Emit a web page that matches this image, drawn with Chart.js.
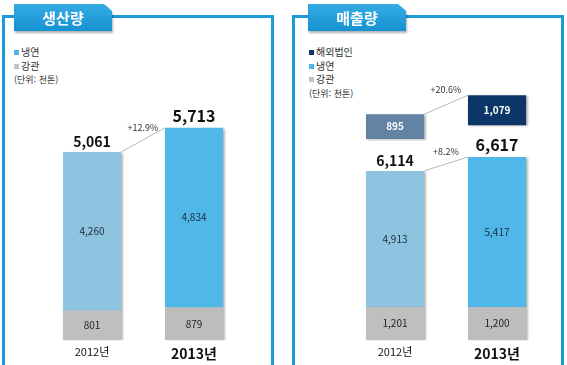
<!DOCTYPE html>
<html lang="ko">
<head>
<meta charset="utf-8">
<script src="https://cdn.jsdelivr.net/npm/chart.js@4.4.1/dist/chart.umd.min.js"></script>
<style>
  body {
    margin: 0;
    width: 567px;
    height: 365px;
    position: relative;
    overflow: hidden;
    background: #fff;
    font-family: "Noto Sans CJK KR", "Noto Sans", sans-serif;
  }
  .frame {
    position: absolute;
    top: 15px;
    height: 360px;
    width: 272px;
    box-sizing: border-box;
    border: 3px solid #1b9bd9;
    border-bottom: none;
  }
  .tabwrap {
    position: absolute;
    top: 4px;
    filter: drop-shadow(1px 2px 1px rgba(0, 0, 0, 0.3));
  }
  .tab {
    width: 98px;
    height: 27px;
    background: linear-gradient(#36abe3, #1592d2);
    clip-path: polygon(0 0, 90px 0, 98px 7px, 98px 100%, 0 100%);
    color: #fff;
    font-weight: bold;
    font-size: 15px;
    line-height: 27px;
    text-align: center;
  }
  .legend {
    position: absolute;
    top: 45px;
    font-size: 10px;
    color: #333;
    line-height: 13.5px;
  }
  .legend i {
    display: inline-block;
    width: 5px;
    height: 5px;
    margin-right: 2px;
    vertical-align: 1px;
  }
  .legend .unit { font-size: 9px; margin-top: 1px; }
  canvas { position: absolute; top: 0; }
</style>
</head>
<body>

<div class="frame" style="left:2px"></div>
<div class="frame" style="left:292px"></div>
<div class="tabwrap" style="left:14px"><div class="tab">생산량</div></div>
<div class="tabwrap" style="left:308px"><div class="tab">매출량</div></div>

<div class="legend" style="left:14px">
  <div><i style="background:#4fb3e6"></i>냉연</div>
  <div><i style="background:#c4c4c4"></i>강관</div>
  <div class="unit">(단위: 천톤)</div>
</div>
<div class="legend" style="left:309px">
  <div><i style="background:#0c3568"></i>해외법인</div>
  <div><i style="background:#4fb3e6"></i>냉연</div>
  <div><i style="background:#c4c4c4"></i>강관</div>
  <div class="unit">(단위: 천톤)</div>
</div>

<canvas id="prodChart" width="283" height="365" style="left:0"></canvas>
<canvas id="salesChart" width="282" height="365" style="left:285px"></canvas>

<script>
const years = ["2012년", "2013년"];

// 생산량
const prodPipe = [801, 879];       // 강관
const prodCold = [4260, 4834];     // 냉연

// 매출량
const salesPipe = [1201, 1200];    // 강관
const salesCold = [4913, 5417];    // 냉연
const salesOverseas = [895, 1079]; // 해외법인

const coldColors = ["#8ec4e0", "#4fb8e8"];
const pipeColors = ["#bfbfbf", "#bdbdbd"];
const overseasColors = ["#6283a3", "#0c3568"];

const fmt = v => v.toLocaleString("en-US");
const pct = (a, b) => "+" + ((b / a - 1) * 100).toFixed(1) + "%";

// stacked bars drawn as floating ranges so the overseas box can sit above the stack
function stackRanges(lower, upper) {
  return {
    low: lower.map(v => [0, v]),
    high: lower.map((v, i) => [v, v + upper[i]])
  };
}

const shadowPlugin = {
  id: "barShadow",
  beforeDatasetsDraw(chart) {
    const ctx = chart.ctx;
    ctx.save();
    ctx.shadowColor = "rgba(0,0,0,0.28)";
    ctx.shadowOffsetX = 2;
    ctx.shadowOffsetY = 1;
    ctx.shadowBlur = 2;
  },
  afterDatasetsDraw(chart) {
    chart.ctx.restore();
  }
};

function connector(ctx, a, b, label, lift) {
  const x1 = a.x + a.width / 2, y1 = a.y;
  const x2 = b.x - b.width / 2, y2 = b.y;
  ctx.strokeStyle = "#b8b8b8";
  ctx.lineWidth = 1;
  ctx.beginPath();
  ctx.moveTo(x1, y1);
  ctx.lineTo(x2, y2);
  ctx.stroke();
  ctx.fillStyle = "#333";
  ctx.font = '9px "Noto Sans CJK KR", sans-serif';
  ctx.textAlign = "center";
  ctx.textBaseline = "middle";
  ctx.fillText(label, (x1 + x2) / 2, (y1 + y2) / 2 - lift);
}

const labelPlugin = {
  id: "valueLabels",
  afterDatasetsDraw(chart) {
    const ctx = chart.ctx;
    ctx.save();
    ctx.textAlign = "center";
    ctx.textBaseline = "middle";
    chart.data.datasets.forEach((ds, di) => {
      const meta = chart.getDatasetMeta(di);
      meta.data.forEach((el, i) => {
        ctx.fillStyle = ds.labelColor;
        ctx.font = ds.labelFont;
        ctx.fillText(fmt(ds.amounts[i]), el.x, (el.y + el.base) / 2);
      });
    });

    // totals above the 냉연 segment
    const coldMeta = chart.getDatasetMeta(1);
    const totals = chart.data.datasets[1].data.map(r => r[1]);
    coldMeta.data.forEach((el, i) => {
      ctx.fillStyle = "#111";
      ctx.font = i === 1
        ? 'bold 16px "Noto Sans CJK KR", sans-serif'
        : 'bold 14px "Noto Sans CJK KR", sans-serif';
      ctx.textBaseline = "alphabetic";
      ctx.fillText(fmt(totals[i]), el.x, el.y - (i === 1 ? 6 : 5));
    });
    connector(ctx, coldMeta.data[0], coldMeta.data[1], pct(totals[0], totals[1]), 12);

    if (chart.data.datasets.length > 2) {
      const osMeta = chart.getDatasetMeta(2);
      const amounts = chart.data.datasets[2].amounts;
      connector(ctx, osMeta.data[0], osMeta.data[1], pct(amounts[0], amounts[1]), 15);
    }
    ctx.restore();
  }
};

function makeOptions(yMax, padding) {
  return {
    responsive: false,
    animation: false,
    layout: { padding: padding },
    plugins: { legend: { display: false }, tooltip: { enabled: false } },
    scales: {
      x: {
        stacked: true,
        grid: { display: false, drawTicks: false },
        border: { display: false },
        ticks: {
          color: "#111",
          padding: 5,
          font: c => c.index === 1
            ? { size: 14, weight: "bold", family: '"Noto Sans CJK KR", sans-serif' }
            : { size: 11, family: '"Noto Sans CJK KR", sans-serif' }
        }
      },
      y: { display: false, stacked: false, min: 0, max: yMax }
    }
  };
}

const segFont = '10px "Noto Sans CJK KR", sans-serif';

const prod = stackRanges(prodPipe, prodCold);
new Chart(document.getElementById("prodChart"), {
  type: "bar",
  data: {
    labels: years,
    datasets: [
      { label: "강관", data: prod.low, amounts: prodPipe, backgroundColor: pipeColors,
        labelColor: "#222", labelFont: segFont, barPercentage: 0.57, categoryPercentage: 1 },
      { label: "냉연", data: prod.high, amounts: prodCold, backgroundColor: coldColors,
        labelColor: "#1c2b3a", labelFont: segFont, barPercentage: 0.57, categoryPercentage: 1 }
    ]
  },
  options: makeOptions(7000, { top: 80, left: 41, right: 38, bottom: -2 }),
  plugins: [shadowPlugin, labelPlugin]
});

const sales = stackRanges(salesPipe, salesCold);
const gap = 1150;
new Chart(document.getElementById("salesChart"), {
  type: "bar",
  data: {
    labels: years,
    datasets: [
      { label: "강관", data: sales.low, amounts: salesPipe, backgroundColor: pipeColors,
        labelColor: "#222", labelFont: segFont, barPercentage: 0.57, categoryPercentage: 1 },
      { label: "냉연", data: sales.high, amounts: salesCold, backgroundColor: coldColors,
        labelColor: "#1c2b3a", labelFont: segFont, barPercentage: 0.57, categoryPercentage: 1 },
      { label: "해외법인",
        data: sales.high.map((r, i) => [r[1] + gap, r[1] + gap + salesOverseas[i]]),
        amounts: salesOverseas, backgroundColor: overseasColors,
        labelColor: "#fff", labelFont: 'bold 10px "Noto Sans CJK KR", sans-serif',
        barPercentage: 0.57, categoryPercentage: 1 }
    ]
  },
  options: makeOptions(9000, { top: 91, left: 59, right: 19, bottom: -2 }),
  plugins: [shadowPlugin, labelPlugin]
});
</script>
</body>
</html>
